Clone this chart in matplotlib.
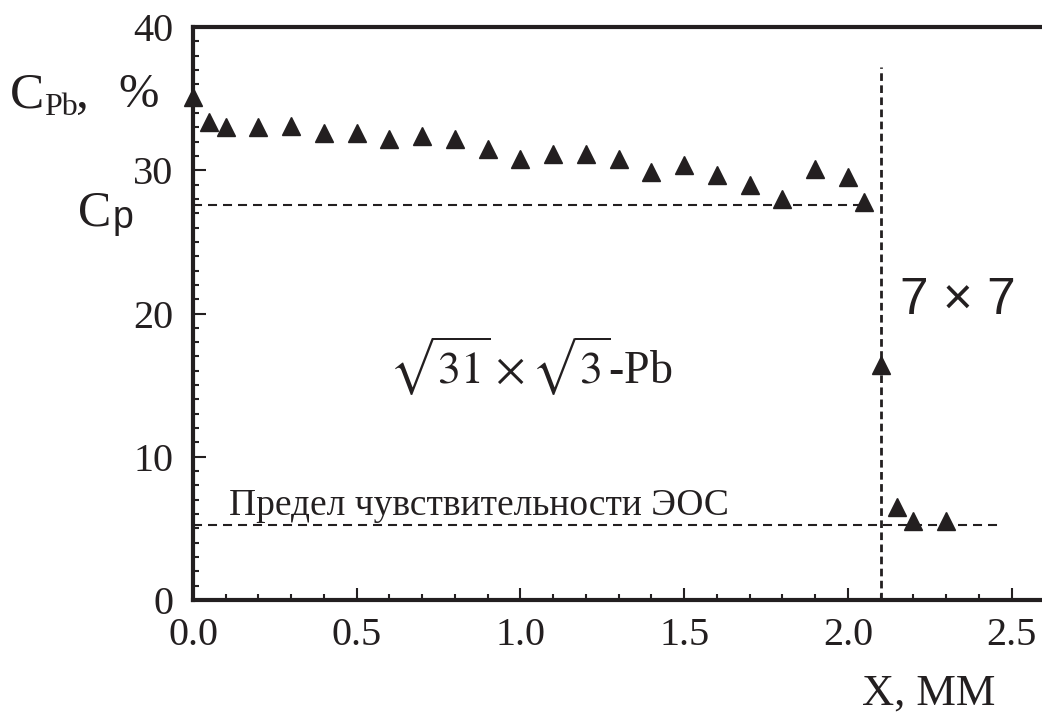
import numpy as np
import matplotlib
matplotlib.use("Agg")
import matplotlib.pyplot as plt
from matplotlib.ticker import MultipleLocator, FormatStrFormatter

plt.rcParams['font.family'] = ['Liberation Serif', 'DejaVu Serif']
plt.rcParams['mathtext.fontset'] = 'stix'
plt.rcParams['lines.scale_dashes'] = False

ink = '#231f20'

# measured points (x, mm ; C_Pb, %)
x_pts = [0.0, 0.05, 0.1, 0.2, 0.3, 0.4, 0.5, 0.6, 0.7, 0.8, 0.9, 1.0, 1.1, 1.2,
         1.3, 1.4, 1.5, 1.6, 1.7, 1.8, 1.9, 2.0, 2.05, 2.1, 2.15, 2.2, 2.3]
c_pts = [35.1, 33.4, 33.0, 33.0, 33.1, 32.6, 32.6, 32.2, 32.4, 32.2, 31.5, 30.8,
         31.1, 31.1, 30.8, 29.9, 30.4, 29.65, 28.95, 28.0, 30.1, 29.5, 27.8,
         16.4, 6.5, 5.5, 5.5]

c_p = 27.6          # upper dashed level
c_limit = 5.25      # sensitivity limit
x_boundary = 2.1    # phase boundary
x_limit_end = 2.46
x_cp_end = 2.05
y_boundary_top = 37.2

fig = plt.figure(figsize=(10.42, 7.22), dpi=100)
ax = fig.add_axes([193 / 1042, 122 / 722, 1 - 193 / 1042, 573 / 722])

ax.plot(x_pts, c_pts, linestyle='none', marker='^', ms=13, color=ink,
        clip_on=False, zorder=5)

ax.plot([0, x_cp_end], [c_p, c_p], color=ink, lw=1.5, dashes=(6.5, 4.3))
ax.plot([0, x_limit_end], [c_limit, c_limit], color=ink, lw=1.5, dashes=(6.5, 4.3))
ax.plot([x_boundary, x_boundary], [0, y_boundary_top], color=ink, lw=2,
        dashes=(5.5, 3.2))

ax.set_xlim(0, 2.593)
ax.set_ylim(0, 40)
ax.xaxis.set_major_locator(MultipleLocator(0.5))
ax.xaxis.set_minor_locator(MultipleLocator(0.1))
ax.xaxis.set_major_formatter(FormatStrFormatter('%.1f'))
ax.yaxis.set_major_locator(MultipleLocator(10))
ax.yaxis.set_minor_locator(MultipleLocator(1))

ax.tick_params(which='both', direction='in', colors=ink, width=1.5,
               labelsize=29, top=False, right=False)
ax.tick_params(which='major', length=9)
ax.tick_params(which='minor', length=4.5)
ax.tick_params(axis='x', pad=12)
ax.tick_params(axis='y', pad=14)

for s in ['left', 'bottom', 'top']:
    ax.spines[s].set_linewidth(3)
    ax.spines[s].set_color(ink)
ax.spines['right'].set_visible(False)

def px(x, y):
    return x / 1042, 1 - y / 722

# axis titles
fig.text(*px(10, 107), 'C', fontsize=37, color=ink, va='baseline')
fig.text(*px(44, 115), 'Pb', fontsize=23, color=ink, va='baseline')
fig.text(*px(76, 107), ',', fontsize=37, color=ink, va='baseline')
fig.text(*px(118, 107), '%', fontsize=35, color=ink, va='baseline')

fig.text(*px(78, 225), 'C', fontsize=36, color=ink, va='baseline')
fig.text(*px(113, 228), 'p', fontsize=27, color=ink, va='baseline',
         family='Liberation Sans')

fig.text(*px(995, 705), 'X, ММ', fontsize=32, color=ink, va='baseline', ha='right')

ax.text(0.11, 5.95, 'Предел чувствительности ЭОС', fontsize=27, color=ink,
        va='baseline')
ax.text(0.6, 15.1, r'$\sqrt{31}\times\sqrt{3}$-Pb', fontsize=33, color=ink,
        va='baseline')
ax.text(2.16, 20.0, '7 × 7', fontsize=37, color=ink, va='baseline',
        family='Liberation Sans')

fig.savefig('out.png', dpi=100)
